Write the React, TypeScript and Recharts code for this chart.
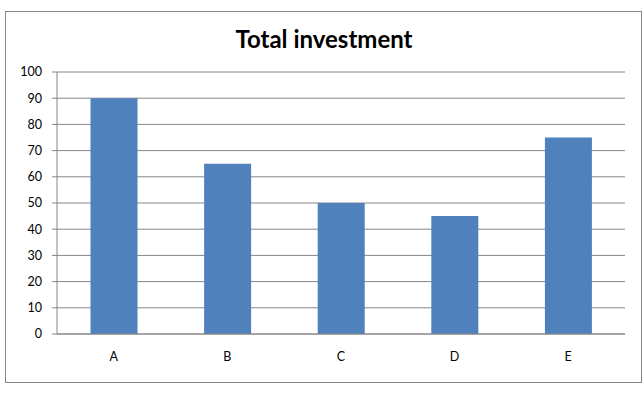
import React from "react";
import { BarChart, Bar, XAxis, YAxis, CartesianGrid } from "recharts";

const categories = ["A", "B", "C", "D", "E"];
const investment = [90, 65, 50, 45, 75];
const yTicks = [0, 10, 20, 30, 40, 50, 60, 70, 80, 90, 100];
const edgeTicks = [0, 1, 2, 3, 4, 5];

const data = categories.map((name, i) => ({ name, value: investment[i] }));

const GRAY = "#868686";
const FONT = "Lato, 'Open Sans', sans-serif";

export default function App() {
  return (
    <div style={{ position: "fixed", left: 0, top: 0, width: 644, height: 407, background: "#fff" }}>
      <div
        style={{
          position: "absolute",
          left: 5,
          top: 11,
          width: 635,
          height: 370,
          border: `1px solid ${GRAY}`,
        }}
      />
      <div
        style={{
          position: "absolute",
          left: 0,
          width: 644,
          top: 24,
          textAlign: "center",
          fontFamily: FONT,
          fontWeight: 700,
          fontSize: 24,
          lineHeight: "30px",
          color: "#000",
          paddingLeft: 2,
        }}
      >
        Total investment
      </div>
      <div style={{ position: "absolute", left: 0, top: 0 }}>
        <BarChart
          width={644}
          height={407}
          data={data}
          margin={{ top: 72, right: 19, bottom: 43, left: 0 }}
          barCategoryGap="29.5%"
        >
          <CartesianGrid vertical={false} stroke={GRAY} strokeDasharray="" />
          <XAxis
            xAxisId="edges"
            type="number"
            domain={[0, 5]}
            ticks={edgeTicks}
            height={0}
            axisLine={false}
            tickSize={4}
            tickLine={{ stroke: GRAY }}
            tickFormatter={() => ""}
          />
          <XAxis
            xAxisId="cat"
            dataKey="name"
            height={30}
            tickLine={false}
            tickSize={0}
            tickMargin={18}
            axisLine={{ stroke: GRAY }}
            tick={{ fill: "#000", fontFamily: FONT, fontSize: 12.5 }}
          />
          <YAxis
            domain={[0, 100]}
            ticks={yTicks}
            width={57}
            tickSize={5}
            tickMargin={10}
            axisLine={{ stroke: GRAY }}
            tickLine={{ stroke: GRAY }}
            tick={{ fill: "#000", fontFamily: FONT, fontSize: 12.5 }}
          />
          <Bar xAxisId="cat" dataKey="value" fill="#4F81BD" isAnimationActive={false} />
        </BarChart>
      </div>
    </div>
  );
}
